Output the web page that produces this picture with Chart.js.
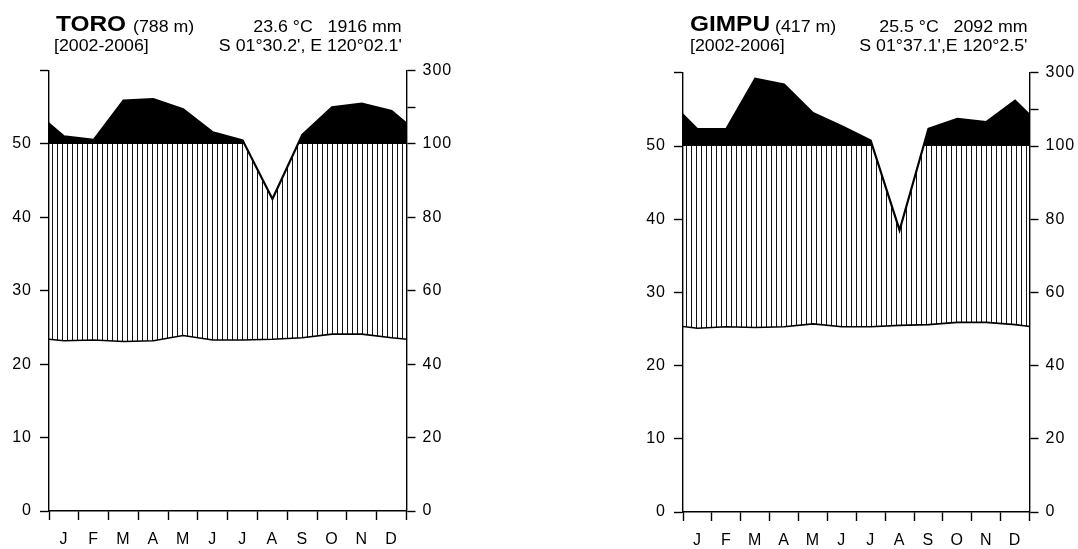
<!DOCTYPE html>
<html lang="en">
<head>
<meta charset="UTF-8">
<title>Climate diagrams</title>
<script src="https://cdn.jsdelivr.net/npm/chart.js"></script>
<style>
  body { margin: 0; background: #fff; width: 1078px; height: 549px; overflow: hidden; position: relative;
         font-family: "Liberation Sans", Arial, sans-serif; color: #000; }
  canvas { position: absolute; top: 0; }
  .t { position: absolute; line-height: 1; white-space: pre; font-size: 16px; }
  .l { transform-origin: left center; transform: scaleX(1.11); }
  .r { transform-origin: right center; transform: scaleX(1.11); }
  .name { font-weight: bold; font-size: 22px; }
</style>
</head>
<body>
<canvas id="toro" width="539" height="549" style="left:0"></canvas>
<canvas id="gimpu" width="539" height="549" style="left:539px"></canvas>

<span class="t name l" style="left:56px; top:13.4px">TORO</span>
<span class="t l" style="left:133px; top:18.5px">(788 m)</span>
<span class="t r" style="right:676px; top:18.8px">23.6 °C   1916 mm</span>
<span class="t l" style="left:54px; top:38.2px">[2002-2006]</span>
<span class="t r" style="right:676px; top:38.2px">S 01°30.2', E 120°02.1'</span>

<span class="t name l" style="left:690px; top:13.4px">GIMPU</span>
<span class="t l" style="left:775px; top:18.5px">(417 m)</span>
<span class="t r" style="right:50.5px; top:18.8px">25.5 °C   2092 mm</span>
<span class="t l" style="left:690px; top:38.2px">[2002-2006]</span>
<span class="t r" style="right:50.5px; top:38.2px">S 01°37.1',E 120°2.5'</span>

<script>
const months = ['J', 'F', 'M', 'A', 'M', 'J', 'J', 'A', 'S', 'O', 'N', 'D'];

// monthly mean temperature (°C) and rainfall (mm)
const toroTemp = [23.2, 23.3, 23.1, 23.2, 23.9, 23.3, 23.3, 23.4, 23.6, 24.1, 24.1, 23.6];
const toroRain = [121, 111, 218, 222, 195, 132, 110, 85, 125, 200, 210, 190];
const gimpuTemp = [25.1, 25.3, 25.2, 25.3, 25.7, 25.3, 25.3, 25.5, 25.6, 25.9, 25.9, 25.6];
const gimpuRain = [146, 146, 284, 268, 190, 154, 115, 77, 147, 174, 165, 224];

// axis ticks
const leftTicks = [0, 10, 20, 30, 40, 50, 60];
const leftLabels = ['0', '10', '20', '30', '40', '50', ''];
const rightTicks = [0, 10, 20, 30, 40, 50, 55, 60];
const rightLabels = ['0', '20', '40', '60', '80', '100', '', '300'];
const xTicks = [];
for (let i = 0; i <= 24; i++) xTicks.push(i / 2);

// rain: 2 mm per °C up to 100 mm, then 20 mm per °C
function mmToAxis(mm) {
    return mm <= 100 ? mm / 2 : 50 + (mm - 100) / 20;
}

// month centres, Dec repeated before Jan and Jan after Dec so the ends join up
function toPoints(vals) {
    const pts = vals.map((v, i) => ({ x: i + 0.5, y: v }));
    pts.unshift({ x: -0.5, y: vals[11] });
    pts.push({ x: 12.5, y: vals[0] });
    return pts;
}

function hatch() {
    const c = document.createElement('canvas');
    c.width = 5;
    c.height = 4;
    const g = c.getContext('2d');
    g.fillStyle = '#111';
    g.fillRect(2, 0, 1, 4);
    return g.createPattern(c, 'repeat');
}

const spacing = {
    id: 'spacing',
    beforeUpdate(chart) { chart.ctx.letterSpacing = '1px'; },
    beforeDraw(chart) { chart.ctx.letterSpacing = '1px'; }
};

Chart.defaults.font.family = '"Liberation Sans", Arial, sans-serif';
Chart.defaults.font.size = 16;
Chart.defaults.color = '#000';

function diagram(id, temp, rain, pad, xHeight) {
    const border = { display: true, color: '#000', width: 1.4 };
    new Chart(document.getElementById(id), {
        type: 'line',
        data: {
            datasets: [{
                data: toPoints(rain.map(mmToAxis)),
                borderColor: '#000',
                borderWidth: 2.2,
                pointRadius: 0,
                clip: 0,
                fill: { target: { value: 50 }, above: '#000', below: 'rgba(0,0,0,0)' }
            }, {
                data: toPoints(temp),
                borderColor: '#000',
                borderWidth: 1.6,
                pointRadius: 0,
                clip: 0,
                backgroundColor: hatch(),
                fill: '-1'
            }]
        },
        options: {
            responsive: false,
            animation: false,
            layout: { padding: pad },
            plugins: { legend: { display: false }, tooltip: { enabled: false } },
            scales: {
                x: {
                    type: 'linear', min: 0, max: 12,
                    afterBuildTicks: s => { s.ticks = xTicks.map(v => ({ value: v })); },
                    afterFit: s => { s.height = xHeight; },
                    border: border,
                    grid: {
                        drawOnChartArea: false, tickLength: 9, tickWidth: 1.4,
                        tickColor: c => Number.isInteger(c.tick.value) ? '#000' : 'rgba(0,0,0,0)'
                    },
                    ticks: {
                        autoSkip: false, maxRotation: 0, padding: 10,
                        callback: v => Number.isInteger(v) ? '' : months[Math.floor(v)]
                    }
                },
                y: {
                    position: 'left', min: 0, max: 60,
                    afterBuildTicks: s => { s.ticks = leftTicks.map(v => ({ value: v })); },
                    afterFit: s => { s.width = 49; },
                    border: border,
                    grid: { drawOnChartArea: false, tickLength: 9, tickWidth: 1.4, tickColor: '#000' },
                    ticks: { padding: 8, callback: (v, i) => leftLabels[i] }
                },
                y2: {
                    position: 'right', min: 0, max: 60,
                    afterBuildTicks: s => { s.ticks = rightTicks.map(v => ({ value: v })); },
                    afterFit: s => { s.width = 45; },
                    border: border,
                    grid: { drawOnChartArea: false, tickLength: 9, tickWidth: 1.4, tickColor: '#000' },
                    ticks: { padding: 7, callback: (v, i) => rightLabels[i] }
                }
            }
        },
        plugins: [spacing]
    });
}

// heights picked so the 100 mm line falls on a whole pixel
diagram('toro', toroTemp, toroRain, { left: 0, right: 87.5, top: 70.6, bottom: 0 }, 38);
diagram('gimpu', gimpuTemp, gimpuRain, { left: 95, right: 3.5, top: 72.8, bottom: 0 }, 37);
</script>
</body>
</html>
